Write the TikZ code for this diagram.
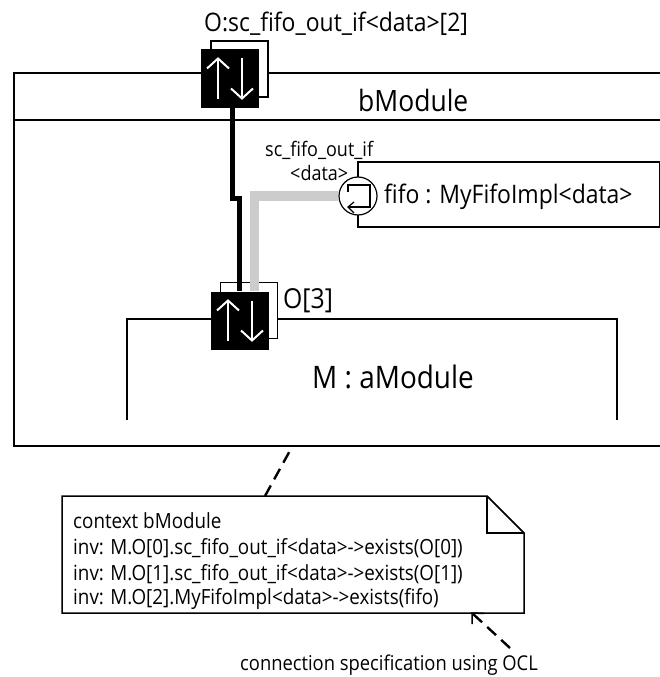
\documentclass[tikz,border=0pt]{standalone}
\usepackage{fontspec}
\setmainfont[FakeStretch=0.9]{Open Sans}
\tikzset{
  line/.style={draw=black,line width=1.5pt},
  thinline/.style={draw=black,line width=0.8pt},
  lab/.style={inner sep=0pt,anchor=base west,text=black},
  portbox/.style={fill=black,draw=none,minimum width=58pt,minimum height=58pt,inner sep=0pt},
  portback/.style={draw=black,line width=1.2pt,fill=white,minimum width=57pt,minimum height=56pt,inner sep=0pt},
  wa/.style={draw=white,line width=2pt},
  notetext/.style={lab,font=\fontsize{20.9}{21}\selectfont},
  dashline/.style={black,line width=2.4pt,dash pattern=on 12pt off 7pt},
}
\begin{document}
\begin{tikzpicture}[x=1pt,y=-1pt]
\useasboundingbox (0,0) rectangle (660,677);
% bModule
\draw[line] (660,73) -- (14,73) -- (14,446) -- (660,446);
\draw[thinline,line width=1.2pt] (14,120) -- (660,120);
\node[lab,font=\fontsize{29.4}{30}\selectfont] at (358,111) {bModule};
% M
\draw[thinline,line width=1.2pt] (127,420) -- (127,319) -- (617,319) -- (617,420);
\node[lab,font=\fontsize{31}{31}\selectfont] at (312,388) {M : aModule};
% fifo
\draw[thinline,line width=1.2pt] (659.5,162) -- (358,162) -- (358,227) -- (659.5,227) -- cycle;
\node[lab,font=\fontsize{25.5}{26}\selectfont] at (384,203) {fifo : MyFifoImpl<data>};
% ports
\node[portback] (pb1) at (239.5,69) {};
\node[portbox] (p1) at (230,78.5) {};
\node[portback] (pb2) at (249,310.5) {};
\node[portbox] (p2) at (240,320.5) {};
\foreach \p in {p1,p2}{
  \draw[wa] ([xshift=-12pt,yshift=20pt]\p.center) -- ([xshift=-12pt,yshift=-20pt]\p.center);
  \draw[wa] ([xshift=-23pt,yshift=10pt]\p.center) -- ([xshift=-12pt,yshift=20pt]\p.center) -- ([xshift=-1pt,yshift=10pt]\p.center);
  \draw[wa] ([xshift=12pt,yshift=20pt]\p.center) -- ([xshift=12pt,yshift=-20pt]\p.center);
  \draw[wa] ([xshift=1pt,yshift=-10pt]\p.center) -- ([xshift=12pt,yshift=-20pt]\p.center) -- ([xshift=23pt,yshift=-10pt]\p.center);
}
% interface circle
\node[circle,draw=black,line width=1.2pt,fill=white,minimum size=38pt,inner sep=0pt] (ci) at (358,196) {};
\draw[line,line width=1.2pt] (348,192) -- (348,185) -- (370,185) -- (370,207) -- (348,207);
\draw[line,line width=1.2pt] (354,202) -- (348,207) -- (354,213);
% wires
\coordinate (k1) at (232.5,198.5);
\coordinate (k2) at (239.5,198.5);
\draw[black,line width=5pt,line join=miter] (p1.south -| k1) -- (k1) -- (k2) -- (p2.north -| k2);
\coordinate (g1) at (254.5,196);
\draw[black!20,line width=9.5pt,line join=miter] (ci.west) -- (g1) -- (p2.north -| g1);
% labels
\node[lab,font=\fontsize{25.5}{26}\selectfont] at (204,32) {O:sc\_fifo\_out\_if<data>[2]};
\node[lab,font=\fontsize{20}{20}\selectfont] at (265,156) {sc\_fifo\_out\_if};
\node[lab,font=\fontsize{20}{20}\selectfont] at (290,180) {<data>};
\node[lab,font=\fontsize{27.5}{28}\selectfont] at (283,308) {O[3]};
% note
\draw[line,fill=white] (62,496) -- (487,496) -- (524,533) -- (524,613) -- (62,613) -- cycle;
\draw[thinline] (487,496) -- (524,533);
\draw[line] (487,496) -- (487,533) -- (524,533);
\node[notetext] at (73,528) {context bModule};
\node[notetext] at (73,554) {inv: M.O[0].sc\_fifo\_out\_if<data>->exists(O[0])};
\node[notetext] at (73,580) {inv: M.O[1].sc\_fifo\_out\_if<data>->exists(O[1])};
\node[notetext] at (73,604) {inv: M.O[2].MyFifoImpl<data>->exists(fifo)};
\coordinate (n1) at (265,496);
\coordinate (m1) at (292,447);
\draw[dashline] (n1) -- (m1);
\coordinate (n2) at (472,613);
\coordinate (t2) at (510,648);
\draw[dashline] (t2) -- (n2);
\draw[black,line width=1.5pt] (472,624) -- (n2) -- (484,613.5);
\node[lab,font=\fontsize{20.4}{20}\selectfont] at (240,670) {connection specification using OCL};
\end{tikzpicture}
\end{document}
